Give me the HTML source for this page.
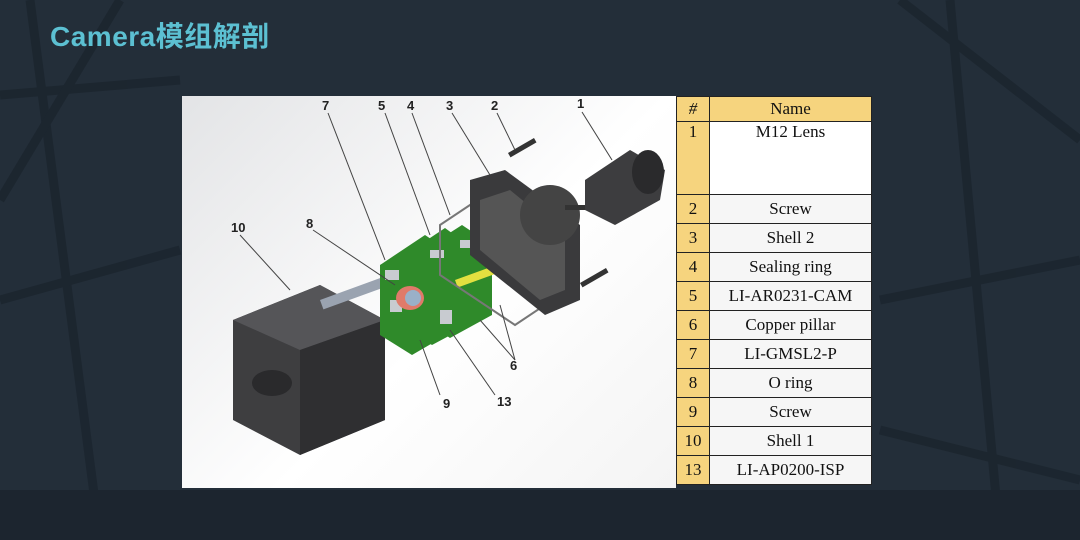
<!DOCTYPE html>
<html><head><meta charset="utf-8"><style>
html,body{margin:0;padding:0}
body{width:1080px;height:540px;overflow:hidden;position:relative;background:#1f2a35;font-family:"Liberation Sans","Noto Sans CJK SC",sans-serif}
.bg{position:absolute;left:0;top:0}
.title{position:absolute;left:50px;top:15px;font-size:28px;font-weight:bold;color:#5cc0d2;letter-spacing:0.5px}
.panel{position:absolute;left:182px;top:96px;width:494px;height:392px;background:linear-gradient(135deg,#e3e4e6,#ffffff 55%,#f4f4f4)}
table{position:absolute;left:676px;top:96px;width:196px;border-collapse:collapse;font-family:"Liberation Serif",serif;font-size:17px;color:#111}
td{border:1px solid #222;text-align:center;padding:0;height:28px;background:#f6f6f6}
td.n{background:#f6d47e;width:32px}
tr.h td{background:#f6d47e;height:24px}
</style></head><body>
<svg class="bg" width="1080" height="540">
<rect width="1080" height="540" fill="#232e39"/>
<g stroke="#1a232c" stroke-width="9" fill="none" opacity="0.7">
<path d="M0 95 L180 80"/><path d="M30 0 L100 540"/><path d="M0 300 L180 250"/><path d="M120 0 L0 200"/>
<path d="M900 0 L1080 140"/><path d="M880 300 L1080 260"/><path d="M950 0 L1000 540"/><path d="M880 430 L1080 480"/>
</g>
<rect x="0" y="490" width="1080" height="50" fill="#1c252f"/>
</svg>
<div class="title">Camera模组解剖</div>
<div class="panel"></div>
<svg class="bg" width="1080" height="540" style="font-family:'Liberation Sans',sans-serif;font-size:13px;font-weight:bold">
<!-- shell 1 -->
<polygon points="233,320 320,285 385,320 385,420 300,455 233,420" fill="#3e3e40"/>
<polygon points="233,320 320,285 385,320 300,350" fill="#555558"/>
<polygon points="300,350 385,320 385,420 300,455" fill="#2f2f31"/>
<ellipse cx="272" cy="383" rx="20" ry="13" fill="#2a2a2c"/>
<rect x="320" y="300" width="80" height="10" fill="#9aa3b0" transform="rotate(-20 320 300)"/>
<!-- pcbs -->
<g fill="#2f8a2a">
<polygon points="380,265 425,235 455,255 455,330 412,355 380,335"/>
<polygon points="400,258 445,228 475,250 475,322 432,345 400,325"/>
<polygon points="420,252 462,225 492,245 492,315 450,338 420,318"/>
</g>
<g fill="#c8cbd0"><rect x="385" y="270" width="14" height="10"/><rect x="390" y="300" width="12" height="12"/><rect x="430" y="250" width="14" height="8"/><rect x="440" y="310" width="12" height="14"/><rect x="460" y="240" width="12" height="8"/></g>
<ellipse cx="410" cy="298" rx="14" ry="12" fill="#e07a6a"/><ellipse cx="413" cy="298" rx="8" ry="8" fill="#9ab0c8"/>
<rect x="455" y="280" width="40" height="8" fill="#e3e040" transform="rotate(-20 455 280)"/>
<!-- sealing ring -->
<polygon points="440,225 470,205 545,255 545,305 515,325 440,275" fill="none" stroke="#777" stroke-width="2"/>
<!-- shell 2 -->
<polygon points="470,180 505,170 580,225 580,300 545,315 470,255" fill="#3a3a3c"/>
<polygon points="480,200 510,190 565,235 565,290 540,300 480,250" fill="#555"/>
<ellipse cx="550" cy="215" rx="30" ry="30" fill="#444"/>
<rect x="565" y="205" width="30" height="5" fill="#333"/>
<!-- lens -->
<polygon points="585,180 630,150 665,170 660,200 615,225 585,210" fill="#3d3d3f"/>
<ellipse cx="648" cy="172" rx="16" ry="22" fill="#2a2a2c"/>
<!-- screws -->
<rect x="508" y="153" width="30" height="5" fill="#333" transform="rotate(-30 508 153)"/>
<rect x="580" y="283" width="30" height="5" fill="#333" transform="rotate(-30 580 283)"/>
<!-- leader lines -->
<g stroke="#444" stroke-width="1">
<path d="M582 112 L612 160"/><path d="M497 113 L515 150"/><path d="M452 113 L490 175"/><path d="M412 113 L450 215"/>
<path d="M385 113 L430 235"/><path d="M328 113 L385 260"/><path d="M313 230 L395 285"/><path d="M240 235 L290 290"/>
<path d="M440 395 L420 340"/><path d="M495 395 L450 330"/><path d="M515 360 L480 320"/><path d="M515 360 L500 305"/>
</g>
<g fill="#222">
<text x="577" y="108">1</text><text x="491" y="110">2</text><text x="446" y="110">3</text><text x="407" y="110">4</text>
<text x="378" y="110">5</text><text x="322" y="110">7</text><text x="306" y="228">8</text><text x="231" y="232">10</text>
<text x="510" y="370">6</text><text x="443" y="408">9</text><text x="497" y="406">13</text>
</g>
</svg>
<table>
<tr class="h"><td class="n"><i>#</i></td><td>Name</td></tr>
<tr><td class="n" style="height:72px;vertical-align:top">1</td><td style="vertical-align:top;background:#fff">M12 Lens</td></tr>
<tr><td class="n">2</td><td>Screw</td></tr>
<tr><td class="n">3</td><td>Shell 2</td></tr>
<tr><td class="n">4</td><td>Sealing ring</td></tr>
<tr><td class="n">5</td><td>LI-AR0231-CAM</td></tr>
<tr><td class="n">6</td><td>Copper pillar</td></tr>
<tr><td class="n">7</td><td>LI-GMSL2-P</td></tr>
<tr><td class="n">8</td><td>O ring</td></tr>
<tr><td class="n">9</td><td>Screw</td></tr>
<tr><td class="n">10</td><td>Shell 1</td></tr>
<tr><td class="n">13</td><td>LI-AP0200-ISP</td></tr>
</table>
</body></html>
